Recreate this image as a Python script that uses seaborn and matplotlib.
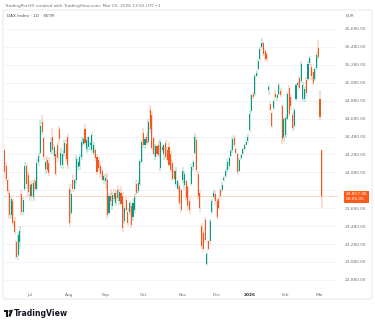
import matplotlib
matplotlib.use("Agg")
import matplotlib.pyplot as plt
from matplotlib.patches import FancyBboxPatch, Rectangle, Circle, Polygon
import pandas as pd
import seaborn as sns

# DAX daily candles (open, high, low, close), grouped by month
jun_2025 = [
    (24330, 24390, 24020, 24080), (24150, 24200, 23980, 24010), (24000, 24020, 23840, 23870),
    (23850, 23900, 23560, 23600), (23600, 23820, 23560, 23780), (23760, 23790, 23480, 23520),
    (23540, 23580, 23380, 23410), (23300, 23330, 23110, 23140), (23160, 23420, 23100, 23380),
    (23300, 23480, 23220, 23430), (23840, 23880, 23600, 23640), (23640, 23800, 23600, 23770),
    (23900, 24200, 23870, 24150), (24150, 24190, 23900, 23950), (24050, 24080, 23800, 23860),
]
jul_2025 = [
    (23820, 23980, 23760, 23940), (23950, 24000, 23780, 23820), (23800, 24000, 23760, 23960),
    (23980, 24020, 23870, 23900), (23900, 24230, 23880, 24190), (24200, 24300, 24150, 24260),
    (24300, 24660, 24280, 24600), (24640, 24720, 24500, 24530), (24460, 24480, 24220, 24250),
    (24120, 24240, 24060, 24200), (24220, 24260, 24080, 24110), (24180, 24250, 24040, 24070),
    (24310, 24460, 24280, 24420), (24480, 24570, 24290, 24330), (24260, 24400, 24220, 24360),
    (24280, 24330, 24030, 24060), (24380, 24420, 24200, 24240), (24560, 24600, 24420, 24450),
    (24160, 24350, 24130, 24300), (24160, 24330, 24120, 24290), (24300, 24440, 24260, 24410),
    (24400, 24450, 24200, 24230), (24480, 24510, 24120, 24160),
]
aug_2025 = [
    (23900, 23950, 23480, 23520), (23630, 23880, 23600, 23840), (24000, 24060, 23860, 23890),
    (23900, 24010, 23880, 23990), (23990, 24270, 23950, 24230), (24140, 24240, 24090, 24200),
    (24150, 24280, 24110, 24250), (24250, 24470, 24220, 24420), (24400, 24480, 24370, 24450),
    (24560, 24620, 24380, 24410), (24340, 24470, 24300, 24440), (24360, 24490, 24320, 24470),
    (24380, 24430, 24330, 24410), (24330, 24530, 24300, 24500), (24300, 24420, 24270, 24390),
    (24330, 24350, 24210, 24240), (24250, 24280, 24050, 24080), (24220, 24250, 24100, 24130),
    (24150, 24200, 24030, 24060), (24100, 24140, 23980, 24000), (23990, 24060, 23950, 24040),
]
sep_2025 = [
    (23980, 24060, 23900, 24020), (24000, 24070, 23560, 23600), (23630, 23850, 23600, 23820),
    (23820, 23900, 23700, 23760), (23700, 23860, 23660, 23830), (23850, 23900, 23750, 23780),
    (23740, 23880, 23700, 23850), (23880, 23940, 23760, 23790), (23760, 23900, 23720, 23860),
    (23850, 23930, 23700, 23730), (23820, 23860, 23420, 23460), (23540, 23720, 23500, 23680),
    (23770, 23800, 23640, 23660), (23640, 23680, 23480, 23510), (23640, 23760, 23600, 23740),
    (23700, 23740, 23460, 23490), (23580, 23780, 23540, 23740), (23660, 23840, 23630, 23800),
    (23950, 23990, 23830, 23850), (23870, 23990, 23840, 23960), (23950, 24230, 23930, 24210),
    (24200, 24450, 24180, 24420),
]
oct_2025 = [
    (24520, 24580, 24350, 24380), (24380, 24470, 24340, 24450), (24470, 24520, 24380, 24410),
    (24420, 24680, 24400, 24640), (24780, 24830, 24520, 24560), (24720, 24760, 24330, 24350),
    (24460, 24480, 24260, 24290), (24250, 24400, 24220, 24370), (24370, 24390, 24250, 24280),
    (24390, 24430, 24250, 24270), (24130, 24450, 24100, 24420), (24360, 24380, 24310, 24330),
    (24290, 24400, 24220, 24380), (24410, 24440, 24230, 24250), (24330, 24360, 24200, 24220),
    (24360, 24420, 24140, 24160), (24280, 24320, 24080, 24110), (24180, 24220, 23980, 24010),
    (24100, 24120, 23990, 24010), (23950, 24140, 23920, 24100), (23900, 24000, 23880, 23980),
    (23930, 23960, 23720, 23740), (23880, 23910, 23640, 23660),
]
nov_2025 = [
    (24000, 24140, 23960, 24100), (23940, 24100, 23880, 24060), (23980, 24000, 23760, 23790),
    (23920, 23940, 23650, 23700), (23760, 23800, 23620, 23660), (23950, 24170, 23930, 24140),
    (24140, 24220, 24100, 24200), (24300, 24520, 24280, 24480), (24440, 24480, 24080, 24110),
    (24060, 24090, 23780, 23820), (23850, 23880, 23640, 23680), (23480, 23520, 23230, 23260),
    (23400, 23460, 23190, 23220), (23550, 23580, 23290, 23320), (23060, 23190, 23040, 23170),
    (23310, 23330, 23200, 23220), (23310, 23560, 23280, 23540), (23640, 23780, 23620, 23760),
    (23800, 23880, 23780, 23850), (23840, 23870, 23720, 23760),
]
dec_2025 = [
    (23760, 23790, 23560, 23580), (23780, 23800, 23660, 23680), (23880, 23900, 23800, 23820),
    (23880, 23970, 23860, 23940), (23990, 24040, 23970, 24020), (24040, 24120, 24020, 24100),
    (24110, 24230, 24080, 24200), (24150, 24260, 24120, 24240), (24260, 24340, 24250, 24320),
    (24330, 24470, 24300, 24450), (24460, 24500, 24360, 24390), (24340, 24360, 24290, 24300),
    (24280, 24300, 24050, 24080), (24100, 24240, 24080, 24220), (24240, 24290, 24220, 24270),
    (24280, 24350, 24270, 24340), (24340, 24400, 24330, 24390), (24390, 24440, 24380, 24420),
    (24430, 24510, 24410, 24480),
]
jan_2026 = [
    (24550, 24760, 24530, 24730), (24760, 24960, 24740, 24940), (24960, 24980, 24900, 24920),
    (24950, 25180, 24930, 25150), (25160, 25220, 25140, 25190), (25230, 25340, 25220, 25320),
    (25340, 25480, 25320, 25460), (25480, 25580, 25460, 25520), (25520, 25540, 25380, 25400),
    (25430, 25460, 25320, 25340), (25400, 25420, 25310, 25350), (25000, 25060, 24940, 25030),
    (24840, 24860, 24760, 24780), (24740, 24770, 24560, 24600), (24800, 24900, 24780, 24880),
    (24960, 25000, 24900, 24920), (24910, 24960, 24880, 24940), (24960, 25080, 24940, 25060),
    (24990, 25020, 24920, 24940), (24820, 24840, 24400, 24450), (24480, 24700, 24420, 24680),
]
feb_2026 = [
    (24500, 24720, 24460, 24690), (24680, 24980, 24660, 24950), (25020, 25060, 24700, 24730),
    (24920, 24950, 24780, 24820), (24720, 24750, 24540, 24570), (24600, 24800, 24560, 24780),
    (24900, 25080, 24880, 25060), (25060, 25100, 25030, 25080), (25130, 25160, 24990, 25020),
    (25100, 25320, 25080, 25290), (24900, 25090, 24880, 25060), (24900, 25030, 24860, 25010),
    (25110, 25140, 24930, 24970), (25120, 25320, 25100, 25290), (25300, 25380, 25280, 25360),
    (25260, 25290, 25110, 25150), (25200, 25230, 25060, 25080), (25120, 25260, 25100, 25230),
    (25240, 25420, 25220, 25390), (25470, 25560, 25340, 25370),
]
mar_2026 = [
    (24900, 25000, 24660, 24700), (24330, 24330, 23680, 23817.96),
]

months = [jun_2025, jul_2025, aug_2025, sep_2025, oct_2025,
          nov_2025, dec_2025, jan_2026, feb_2026, mar_2026]
month_labels = ["Jul", "Aug", "Sep", "Oct", "Nov", "Dec", "2026", "Feb", "Mar"]
price_levels = list(range(22880, 25681, 200))
last_price = 23817.96
countdown = "03:05:05"

UP = "#089981"
DOWN = "#f4581e"

rows = [c for m in months for c in m]
df = pd.DataFrame(rows, columns=["open", "high", "low", "close"])
df["idx"] = range(len(df))
df["dir"] = (df["close"] >= df["open"]).map({True: "up", False: "down"})

starts = []
n = 0
for m in months:
    starts.append(n)
    n += len(m)
month_ticks = starts[1:]

sns.set_theme(style="white")
plt.rcParams["font.family"] = ["DejaVu Sans"]
palette = {"up": UP, "down": DOWN}

W, H = 375, 323
fig = plt.figure(figsize=(W / 100, H / 100), dpi=100)
fig.patch.set_facecolor("white")

# chart frame
fig.patches.append(FancyBboxPatch((3 / W, 1 - 299 / H), 369 / W, 289 / H,
                                  boxstyle="round,pad=0,rounding_size=0.006",
                                  transform=fig.transFigure, fc="none",
                                  ec="#e0e3eb", lw=0.6))

ax = fig.add_axes([4 / W, 1 - 287 / H, 334 / W, 277 / H])
ax.set_facecolor("none")

for lv in price_levels:
    ax.axhline(lv, color="#f0f3fa", lw=0.6, zorder=0)

# wicks: one vertical segment per session from low to high
ax.vlines(df["idx"], df["low"], df["high"],
          colors=[palette[d] for d in df["dir"]], lw=0.35, alpha=0.8, zorder=2)

# bodies
heights = (df["close"] - df["open"]).where(lambda s: s.abs() > 8, 8)
ax.bar(df["idx"], heights, bottom=df["open"], width=0.62, linewidth=0,
       color=[palette[d] for d in df["dir"]], zorder=3)

# last price line and tag
ax.axhline(last_price, color=DOWN, lw=0.6, ls=(0, (1, 1)), alpha=0.55, zorder=1)

ax.set_xlim(-0.2, 194.5)
ax.set_ylim(22801, 25892)
ax.yaxis.tick_right()
ax.set_yticks(price_levels)
ax.set_yticklabels([f"{v:,.2f}" for v in price_levels])
ax.set_xticks(month_ticks)
ax.set_xticklabels(month_labels)
ax.tick_params(axis="both", length=0, labelsize=3.1, colors="#6f7380")
ax.tick_params(axis="y", pad=5.0)
ax.tick_params(axis="x", pad=4.0)
for lab in ax.get_xticklabels():
    if lab.get_text() == "2026":
        lab.set_fontweight("bold")
        lab.set_color("#2a2e39")
for lab in ax.get_yticklabels():
    if abs(float(lab.get_text().replace(",", "")) - 23880) < 1:
        lab.set_visible(False)
ax.set_xlabel("")
ax.set_ylabel("")
sns.despine(ax=ax, left=True, bottom=True, right=True, top=True)

ax.annotate(f"{last_price:,.2f}\n{countdown}", xy=(1.0, last_price),
            xycoords=("axes fraction", "data"), xytext=(5.5, 2.6),
            textcoords="offset points", ha="left", va="top",
            fontsize=3.1, color="white", linespacing=1.3,
            bbox=dict(boxstyle="square,pad=0.4", fc="#ff5a1a", ec="none"),
            annotation_clip=False, zorder=6)

# header texts
fig.text(5 / W, 1 - 6 / H,
         "TradingPort25 created with TradingView.com, Mar 03, 2026 13:55 UTC+1",
         fontsize=3.1, color="#6f7380", va="center", ha="left")
fig.text(7 / W, 1 - 16 / H, "DAX Index · 1D · XETR",
         fontsize=3.1, color="#4a4e59", va="center", ha="left")
fig.text(346 / W, 1 - 16 / H, "EUR", fontsize=3.1, color="#6f7380",
         va="center", ha="left")

# TradingView mark
def px(x, y):
    return (x / W, 1 - y / H)

fig.patches.append(Rectangle(px(4, 312), 4 / W, 2.2 / H, transform=fig.transFigure,
                             fc="#131722", ec="none"))
fig.patches.append(Rectangle(px(5.8, 316.5), 2.2 / W, 4.5 / H, transform=fig.transFigure,
                             fc="#131722", ec="none"))
fig.patches.append(Circle(px(9.3, 311), 0.9 / W, transform=fig.transFigure,
                          fc="#131722", ec="none"))
fig.patches.append(Polygon([px(10.4, 309.8), px(13.0, 309.8), px(10.6, 316.5), px(8.4, 316.5)],
                           closed=True, transform=fig.transFigure,
                           fc="#131722", ec="none"))
fig.text(14 / W, 1 - 313.3 / H, "TradingView", fontsize=5.6, fontweight="bold",
         color="#131722", va="center", ha="left")

fig.savefig("out.png", dpi=100, facecolor="white")
